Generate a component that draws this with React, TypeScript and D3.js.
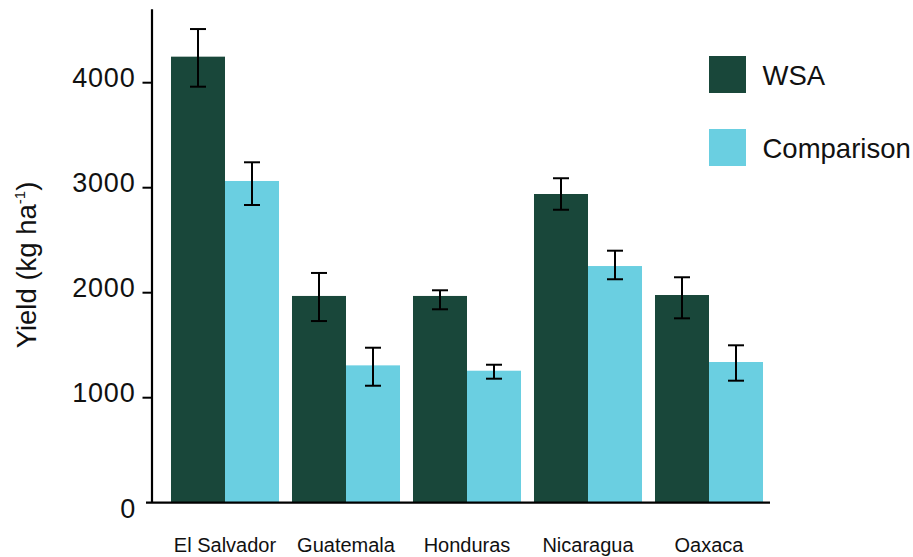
import React from "react";
import * as d3 from "d3";

const categories = ["El Salvador", "Guatemala", "Honduras", "Nicaragua", "Oaxaca"];
const seriesNames = ["WSA", "Comparison"];
const wsaValues = [4248, 1969, 1969, 2940, 1978];
const wsaLow = [3962, 1730, 1842, 2790, 1756];
const wsaHigh = [4511, 2188, 2023, 3090, 2147];
const compValues = [3064, 1308, 1257, 2254, 1340];
const compLow = [2835, 1114, 1181, 2128, 1162];
const compHigh = [3242, 1476, 1314, 2400, 1499];
const yTicks = [0, 1000, 2000, 3000, 4000];
const colors = ["#19473a", "#6acfe1"];

const W = 913;
const H = 557;
const FONT = "'Liberation Sans', Arial, Helvetica, sans-serif";

export default function App() {
  const x = d3
    .scaleBand<string>()
    .domain(categories)
    .range([164.5, 769.5])
    .paddingInner(0.1074)
    .paddingOuter(0.0537);
  const xs = d3.scaleBand<string>().domain(seriesNames).range([0, x.bandwidth()]);
  const y = d3.scaleLinear().domain([0, 4700]).range([502.7, 9.2]);

  const series = [
    { name: seriesNames[0], vals: wsaValues, lo: wsaLow, hi: wsaHigh, color: colors[0] },
    { name: seriesNames[1], vals: compValues, lo: compLow, hi: compHigh, color: colors[1] },
  ];

  return (
    <svg
      width={W}
      height={H}
      style={{ position: "absolute", left: 0, top: 0, background: "#fff" }}
      fontFamily={FONT}
    >
      {/* bars */}
      {series.map((s) =>
        categories.map((c, i) => (
          <rect
            key={s.name + c}
            x={(x(c) ?? 0) + (xs(s.name) ?? 0)}
            y={y(s.vals[i])}
            width={xs.bandwidth()}
            height={y(0) - y(s.vals[i])}
            fill={s.color}
          />
        ))
      )}
      {/* error bars */}
      {series.map((s) =>
        categories.map((c, i) => {
          const cx = (x(c) ?? 0) + (xs(s.name) ?? 0) + xs.bandwidth() / 2;
          return (
            <g key={"e" + s.name + c} stroke="#000" strokeWidth={2}>
              <line x1={cx} x2={cx} y1={y(s.hi[i])} y2={y(s.lo[i])} />
              <line x1={cx - 8} x2={cx + 8} y1={y(s.hi[i])} y2={y(s.hi[i])} />
              <line x1={cx - 8} x2={cx + 8} y1={y(s.lo[i])} y2={y(s.lo[i])} />
            </g>
          );
        })
      )}
      {/* axes */}
      <line x1={152} x2={152} y1={y.range()[1]} y2={y(0)} stroke="#000" strokeWidth={2.2} />
      <line x1={146} x2={770} y1={y(0)} y2={y(0)} stroke="#000" strokeWidth={2.2} />
      {yTicks.map((t) => (
        <g key={t}>
          {t !== 0 && <line x1={142.5} x2={152} y1={y(t)} y2={y(t)} stroke="#000" strokeWidth={2} />}
          <text
            x={t === 0 ? 136 : 135.5}
            y={y(t) + (t === 0 ? 6 : -5)}
            textAnchor="end"
            dominantBaseline="central"
            fontSize={27}
            letterSpacing={0.8}
            fill="#111"
          >
            {t}
          </text>
        </g>
      ))}
      {categories.map((c) => (
        <text
          key={c}
          x={(x(c) ?? 0) + x.bandwidth() / 2}
          y={551.5}
          textAnchor="middle"
          fontSize={20}
          fill="#111"
        >
          {c}
        </text>
      ))}
      {/* y title */}
      <text
        transform="translate(36,265) rotate(-90)"
        textAnchor="middle"
        fontSize={27.5}
        fill="#111"
      >
        Yield (kg ha
        <tspan fontSize={15} dy={-11}>-1</tspan>
        <tspan dy={11}>)</tspan>
      </text>
      {/* legend */}
      {series.map((s, i) => (
        <g key={"l" + s.name} transform={`translate(709,${56 + i * 73})`}>
          <rect width={37} height={37} fill={s.color} />
          <text x={53.5} y={29} fontSize={27.5} fill="#111">
            {s.name}
          </text>
        </g>
      ))}
    </svg>
  );
}
